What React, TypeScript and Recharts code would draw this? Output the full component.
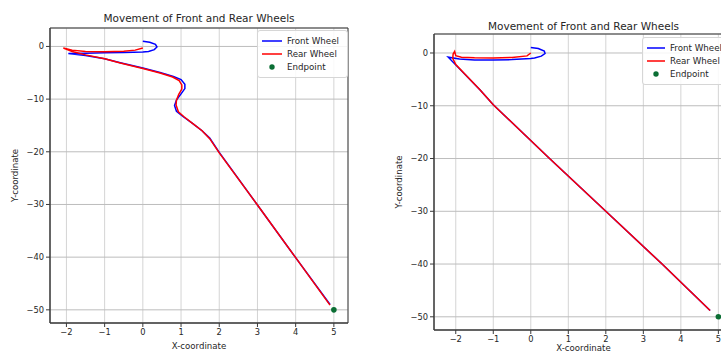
// Two side-by-side trajectory plots: front vs rear wheel paths with the endpoint marker.
import {
  ComposedChart,
  Line,
  Scatter,
  XAxis,
  YAxis,
  CartesianGrid,
  Legend,
  Label,
  ReferenceArea,
} from 'recharts';

type Pt = { x: number; y: number };

const FONT = '"DejaVu Sans", Verdana, sans-serif';
const TEXT = '#262626';
const FRAME = '#3a3a3a';
const BLUE = '#0000ff';
const RED = '#ff0000';
const GREEN = '#0b6e34';

const xTicks = [-2, -1, 0, 1, 2, 3, 4, 5];
const yTicks = [0, -10, -20, -30, -40, -50];
const legendOrder = ['Front Wheel', 'Rear Wheel', 'Endpoint'];
const endpoint: Pt[] = [{ x: 5, y: -50 }];

// left panel: path with the S-bend
const leftFront: Pt[] = [
  { x: 0, y: 1.0 }, { x: 0.18, y: 0.8 }, { x: 0.33, y: 0.4 }, { x: 0.37, y: -0.1 },
  { x: 0.3, y: -0.6 }, { x: 0.15, y: -0.95 }, { x: 0, y: -1.07 }, { x: -0.5, y: -1.15 },
  { x: -1.0, y: -1.2 }, { x: -1.5, y: -1.27 }, { x: -1.95, y: -1.33 }, { x: -1.5, y: -1.7 },
  { x: -1.0, y: -2.35 }, { x: -0.59, y: -3.1 }, { x: 0, y: -4.1 }, { x: 0.45, y: -4.95 },
  { x: 0.8, y: -5.7 }, { x: 1.0, y: -6.3 }, { x: 1.1, y: -7.2 }, { x: 1.1, y: -8.0 },
  { x: 1.0, y: -9.0 }, { x: 0.88, y: -10.2 }, { x: 0.83, y: -11.2 }, { x: 0.88, y: -12.3 },
  { x: 1.05, y: -13.3 }, { x: 1.3, y: -14.6 }, { x: 1.55, y: -16.0 }, { x: 1.75, y: -17.4 },
  { x: 2.0, y: -20.1 }, { x: 3.0, y: -30.1 }, { x: 4.0, y: -40.1 }, { x: 4.9, y: -49.0 },
];

const leftRear: Pt[] = [
  { x: 0, y: -0.3 }, { x: -0.2, y: -0.7 }, { x: -0.5, y: -0.9 }, { x: -1.0, y: -1.0 },
  { x: -1.5, y: -0.95 }, { x: -1.85, y: -0.7 }, { x: -2.08, y: -0.3 }, { x: -1.85, y: -0.95 },
  { x: -1.5, y: -1.6 }, { x: -1.0, y: -2.35 }, { x: -0.59, y: -3.15 }, { x: 0, y: -4.2 },
  { x: 0.45, y: -5.05 }, { x: 0.78, y: -5.8 }, { x: 0.95, y: -6.5 }, { x: 1.02, y: -7.3 },
  { x: 1.02, y: -8.1 }, { x: 0.94, y: -9.1 }, { x: 0.88, y: -10.2 }, { x: 0.87, y: -11.1 },
  { x: 0.93, y: -12.4 }, { x: 1.07, y: -13.3 }, { x: 1.3, y: -14.6 }, { x: 1.55, y: -16.0 },
  { x: 1.75, y: -17.5 }, { x: 2.0, y: -20.2 }, { x: 3.0, y: -30.1 }, { x: 4.0, y: -40.1 },
  { x: 4.9, y: -49.1 },
];

// right panel: straight run after the turn
const rightFront: Pt[] = [
  { x: 0, y: 1.05 }, { x: 0.2, y: 0.85 }, { x: 0.36, y: 0.35 }, { x: 0.38, y: -0.1 },
  { x: 0.28, y: -0.6 }, { x: 0.1, y: -0.95 }, { x: 0, y: -1.05 }, { x: -0.5, y: -1.25 },
  { x: -1.0, y: -1.33 }, { x: -1.5, y: -1.33 }, { x: -1.9, y: -1.15 }, { x: -2.2, y: -0.8 },
  { x: -1.35, y: -7.0 }, { x: -1.0, y: -9.8 }, { x: 0.5, y: -20.0 }, { x: 2.0, y: -30.0 },
  { x: 3.5, y: -40.0 }, { x: 4.78, y: -48.8 },
];

const rightRear: Pt[] = [
  { x: 0, y: 0 }, { x: -0.1, y: -0.55 }, { x: -0.5, y: -0.85 }, { x: -1.0, y: -0.95 },
  { x: -1.5, y: -0.92 }, { x: -1.85, y: -0.8 }, { x: -2.0, y: -0.5 }, { x: -2.03, y: 0.3 },
  { x: -2.07, y: -0.2 }, { x: -2.08, y: -1.0 }, { x: -2.0, y: -2.2 }, { x: -1.35, y: -7.0 },
  { x: -1.0, y: -9.8 }, { x: 0.5, y: -20.0 }, { x: 2.0, y: -30.0 }, { x: 3.5, y: -40.0 },
  { x: 4.78, y: -48.8 },
];

const minus = (v: number) => String(v).replace('-', '\u2212');

function LegendBox({ payload, sampleLen }: any) {
  const items = legendOrder
    .map((n) => (payload || []).find((p: any) => p.value === n))
    .filter(Boolean);
  return (
    <div
      style={{
        display: 'inline-block',
        border: '1px solid #d6d6d6',
        borderRadius: 3,
        background: 'rgba(255,255,255,0.85)',
        padding: '3px 8px 3px 4px',
        fontFamily: FONT,
        fontSize: 8.7,
        color: TEXT,
        whiteSpace: 'nowrap',
      }}
    >
      {items.map((it: any) => (
        <div key={it.value} style={{ display: 'flex', alignItems: 'center', height: 13.3 }}>
          <svg width={sampleLen} height={8} style={{ marginRight: 5 }}>
            {it.type === 'circle' ? (
              <circle cx={sampleLen / 2} cy={4} r={2.7} fill={it.color} />
            ) : (
              <line x1={0} x2={sampleLen} y1={4} y2={4} stroke={it.color} strokeWidth={1.5} />
            )}
          </svg>
          <span>{it.value}</span>
        </div>
      ))}
    </div>
  );
}

const makeXLabel = (dy: number) => (p: any) => {
  const vb = p.viewBox || { x: 0, y: 0, width: 0, height: 0 };
  return (
    <text
      x={vb.x + vb.width / 2}
      y={vb.y + dy}
      textAnchor="middle"
      dominantBaseline="central"
      fontSize={8.6}
      fontFamily={FONT}
      fill={TEXT}
    >
      X-coordinate
    </text>
  );
};

const yLabel = (p: any) => {
  const vb = p.viewBox || { x: 0, y: 0, width: 0, height: 0 };
  const x = vb.x + vb.width - 35.5;
  const y = vb.y + vb.height / 2;
  return (
    <text
      x={x}
      y={y}
      transform={`rotate(-90, ${x}, ${y})`}
      textAnchor="middle"
      dominantBaseline="central"
      fontSize={8.6}
      fontFamily={FONT}
      fill={TEXT}
    >
      Y-coordinate
    </text>
  );
};

interface PanelProps {
  left: number;
  width: number;
  margin: { top: number; right: number; bottom: number; left: number };
  yAxisWidth: number;
  xAxisHeight: number;
  xLabelDy: number;
  xDomain: [number, number];
  yDomain: [number, number];
  front: Pt[];
  rear: Pt[];
  titleY: number;
  legendPos: { left: number; top: number };
  sampleLen: number;
}

function Panel(props: PanelProps) {
  const { left, width, margin, yAxisWidth, xAxisHeight, xDomain, yDomain, front, rear } = props;
  const plotLeft = margin.left + yAxisWidth;
  const plotWidth = width - margin.right - plotLeft;
  const tick = { fill: TEXT, fontSize: 8.3, fontFamily: FONT };

  return (
    <div style={{ position: 'absolute', left, top: 0, width, height: 354 }}>
      <div
        style={{
          position: 'absolute',
          left: plotLeft,
          width: plotWidth,
          top: props.titleY - 8,
          height: 16,
          lineHeight: '16px',
          textAlign: 'center',
          fontFamily: FONT,
          fontSize: 10.5,
          color: TEXT,
          whiteSpace: 'nowrap',
        }}
      >
        Movement of Front and Rear Wheels
      </div>
      <ComposedChart width={width} height={354} margin={margin}>
        <CartesianGrid horizontal={false} stroke="#d4d4d4" />
        <CartesianGrid vertical={false} stroke="#bdbdbd" />
        <XAxis
          dataKey="x"
          type="number"
          domain={xDomain}
          allowDataOverflow
          ticks={xTicks}
          interval={0}
          tickFormatter={minus}
          height={xAxisHeight}
          tickSize={4}
          tickMargin={2}
          stroke={FRAME}
          tick={tick}
        >
          <Label content={makeXLabel(props.xLabelDy)} />
        </XAxis>
        <YAxis
          dataKey="y"
          type="number"
          domain={yDomain}
          allowDataOverflow
          ticks={yTicks}
          interval={0}
          tickFormatter={minus}
          width={yAxisWidth}
          tickSize={4}
          tickMargin={2}
          stroke={FRAME}
          tick={tick}
        >
          <Label content={yLabel} />
        </YAxis>
        {/* axes frame (matplotlib spines) */}
        <ReferenceArea
          x1={xDomain[0]}
          x2={xDomain[1]}
          y1={yDomain[0]}
          y2={yDomain[1]}
          fill="none"
          fillOpacity={0}
          stroke={FRAME}
          strokeWidth={1}
          ifOverflow="visible"
        />
        <Line
          data={front}
          dataKey="y"
          name="Front Wheel"
          type="linear"
          stroke={BLUE}
          strokeWidth={1.5}
          dot={false}
          legendType="line"
          isAnimationActive={false}
        />
        <Line
          data={rear}
          dataKey="y"
          name="Rear Wheel"
          type="linear"
          stroke={RED}
          strokeWidth={1.5}
          dot={false}
          legendType="line"
          isAnimationActive={false}
        />
        <Scatter
          data={endpoint}
          dataKey="y"
          name="Endpoint"
          fill={GREEN}
          legendType="circle"
          isAnimationActive={false}
          shape={(p: any) => <circle cx={p.cx} cy={p.cy} r={2.8} fill={GREEN} />}
        />
        <Legend
          layout="vertical"
          align="center"
          verticalAlign="middle"
          wrapperStyle={{ left: props.legendPos.left, top: props.legendPos.top, width: 'auto' }}
          content={(lp: any) => <LegendBox {...lp} sampleLen={props.sampleLen} />}
        />
      </ComposedChart>
    </div>
  );
}

export default function App() {
  return (
    <div
      style={{
        position: 'absolute',
        left: 0,
        top: 0,
        width: 721,
        height: 354,
        overflow: 'hidden',
        background: '#fff',
        fontFamily: FONT,
      }}
    >
      <Panel
        left={0}
        width={360}
        margin={{ top: 28, right: 12, bottom: 0, left: 0 }}
        yAxisWidth={50}
        xAxisHeight={31}
        xLabelDy={23}
        xDomain={[-2.43, 5.37]}
        yDomain={[-52.5, 3.5]}
        front={leftFront}
        rear={leftRear}
        titleY={18}
        legendPos={{ left: 257, top: 30 }}
        sampleLen={20}
      />
      <Panel
        left={360}
        width={390}
        margin={{ top: 34, right: 17, bottom: 0, left: 0 }}
        yAxisWidth={74}
        xAxisHeight={24}
        xLabelDy={18}
        xDomain={[-2.58, 5.39]}
        yDomain={[-52.5, 3.6]}
        front={rightFront}
        rear={rightRear}
        titleY={25.5}
        legendPos={{ left: 282, top: 37 }}
        sampleLen={18}
      />
    </div>
  );
}
